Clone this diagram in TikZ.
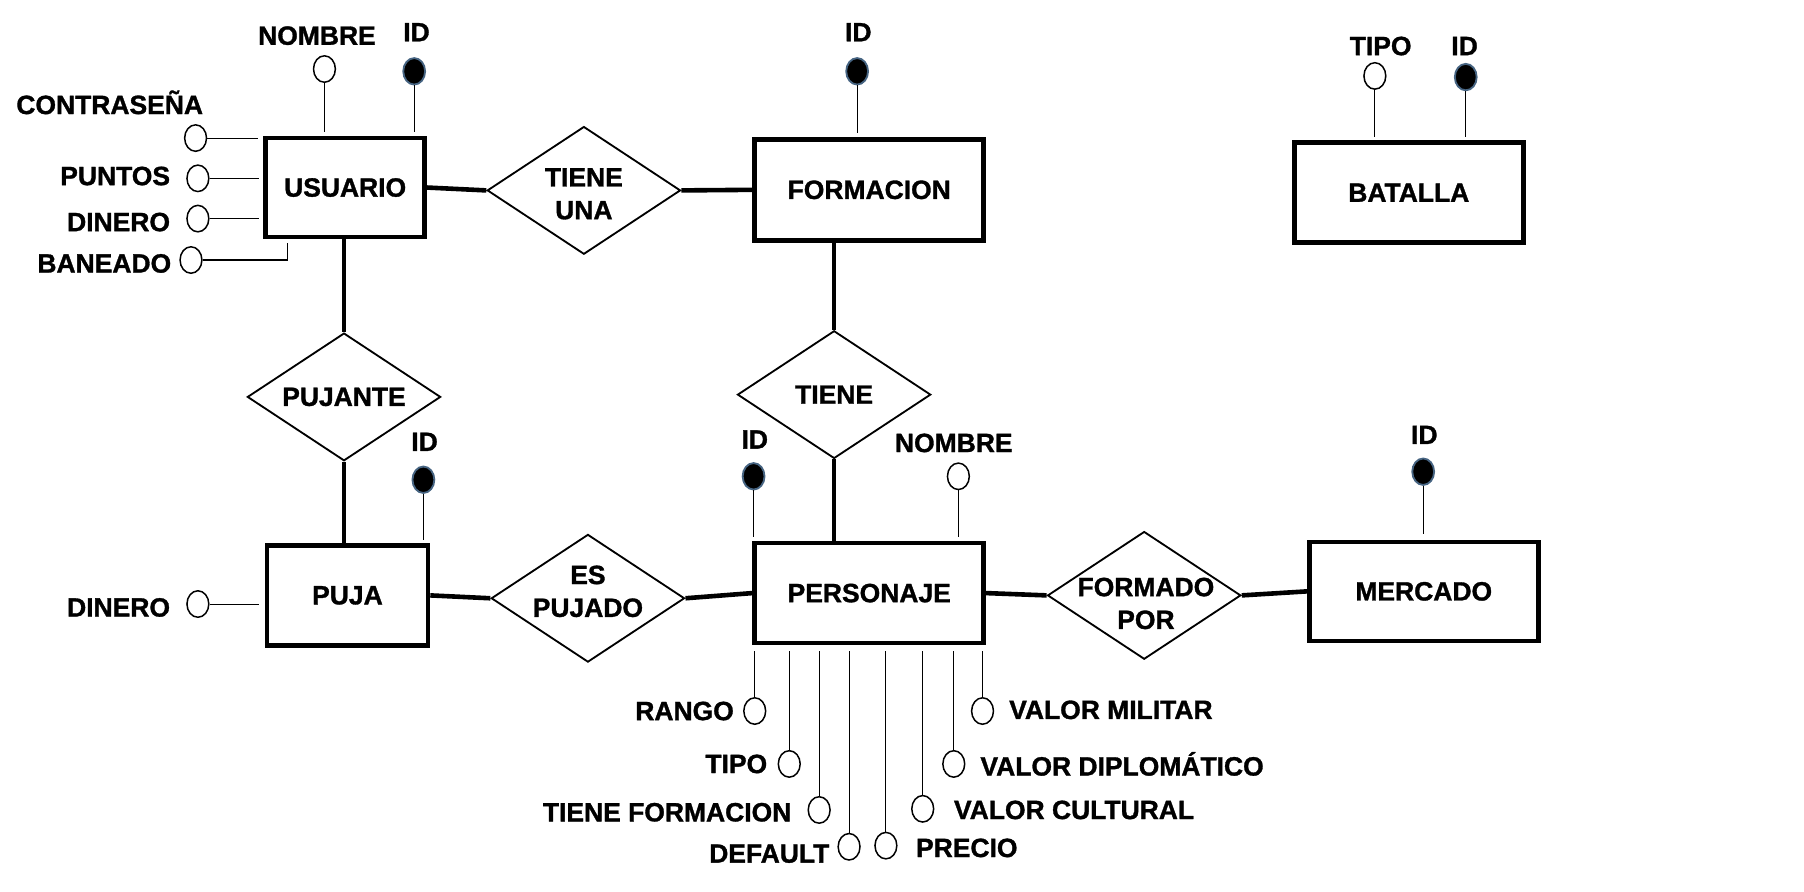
\documentclass[tikz,border=0pt]{standalone}
\usepackage{fontspec}
\setmainfont[BoldFeatures={FakeBold=1.2}]{Liberation Sans}
\usetikzlibrary{shapes.geometric}
\definecolor{keyrim}{RGB}{70,100,130}
\begin{document}
\begin{tikzpicture}[x=1pt,y=-1pt,
  every node/.style={font=\fontsize{23}{28.5}\selectfont\bfseries},
  entity/.style={draw,line width=4pt,inner sep=0},
  rel/.style={draw,diamond,line width=1.6pt,minimum width=168pt,minimum height=111pt,inner sep=0},
  attr/.style={draw,ellipse,line width=1.3pt,minimum width=19pt,minimum height=23pt,inner sep=0},
  keyattr/.style={attr,fill=black,draw=keyrim,line width=1.6pt},
  conn/.style={line width=4pt},
  alink/.style={line width=0.9pt},
  lbl/.style={inner sep=0,align=center}]
\useasboundingbox[fill=white] (0,0) rectangle (1568,775);

% entities
\node[entity,minimum width=138pt,minimum height=86pt] (usu) at (300,163) {USUARIO};
\node[entity,minimum width=199pt,minimum height=88pt] (form) at (755.5,165) {FORMACION};
\node[entity,minimum width=199pt,minimum height=87pt] (bat) at (1224.5,167.5) {BATALLA};
\node[entity,minimum width=140pt,minimum height=87pt] (puja) at (302,517.5) {PUJA};
\node[entity,minimum width=199pt,minimum height=87pt] (pers) at (755.5,515.5) {PERSONAJE};
\node[entity,minimum width=199pt,minimum height=86pt] (merc) at (1237.5,514) {MERCADO};

% relationships
\node[rel] (tu) at (507.5,165.5) {};
\node[lbl] (tuT) at (507.5,168.5) {TIENE\\UNA};
\node[rel] (pjt) at (299,345) {};
\node[lbl] (pjtT) at (299,345) {PUJANTE};
\node[rel] (tn) at (725,343) {};
\node[lbl] (tnT) at (725,343) {TIENE};
\node[rel] (ep) at (511,520) {};
\node[lbl] (epT) at (511,514) {ES\\PUJADO};
\node[rel] (fp) at (994.5,517.5) {};
\node[lbl] (fpT) at (996,524.5) {FORMADO\\POR};

% connectors
\draw[conn] (usu.east) -- (tu.west);
\draw[conn] (tu.east) -- (form.west);
\draw[conn] (pjt.north |- usu.south) -- (pjt.north);
\draw[conn] (pjt.south) -- (pjt.south |- puja.north);
\draw[conn] (tn.north |- form.south) -- (tn.north);
\draw[conn] (tn.south) -- (tn.south |- pers.north);
\draw[conn] (puja.east) -- (ep.west);
\draw[conn] (ep.east) -- (pers.west);
\draw[conn] (pers.east) -- (fp.west);
\draw[conn] (fp.east) -- (merc.west);

% USUARIO attributes
\node[attr] (uNom) at (282,60) {};
\node[lbl] (luNom) at (275.5,31) {NOMBRE};
\node[keyattr] (uId) at (360,62) {};
\node[lbl] (luId) at (362,28) {ID};
\node[attr] (uCon) at (170,120) {};
\node[lbl,anchor=west] (luCon) at (14,89) {CONTRASEÑA};
\node[attr] (uPun) at (172,155) {};
\node[lbl,anchor=east] (luPun) at (148,153) {PUNTOS};
\node[attr] (uDin) at (172,190) {};
\node[lbl,anchor=east] (luDin) at (148,193) {DINERO};
\node[attr] (uBan) at (166,226) {};
\node[lbl,anchor=east] (luBan) at (149,229) {BANEADO};
\coordinate (uBanC) at (250,226);
\draw[alink,shorten >=3pt] (uNom.south) -- (uNom.south |- usu.north);
\draw[alink,shorten >=3pt] (uId.south) -- (uId.south |- usu.north);
\draw[alink,shorten >=5pt] (uCon.east) -- (uCon.east -| usu.west);
\draw[alink,shorten >=4pt] (uPun.east) -- (uPun.east -| usu.west);
\draw[alink,shorten >=4pt] (uDin.east) -- (uDin.east -| usu.west);
\draw[alink] (uBan.east) -- (uBanC) -- ([yshift=-3pt]uBanC |- usu.south);

% FORMACION attribute
\node[keyattr] (fId) at (745,62) {};
\node[lbl] (lfId) at (746,28) {ID};
\draw[alink,shorten >=3pt] (fId.south) -- (fId.south |- form.north);

% BATALLA attributes
\node[attr] (bTip) at (1195,66) {};
\node[lbl] (lbTip) at (1200,40) {TIPO};
\node[keyattr] (bId) at (1274,67) {};
\node[lbl] (lbId) at (1273,40) {ID};
\draw[alink,shorten >=3pt] (bTip.south) -- (bTip.south |- bat.north);
\draw[alink,shorten >=3pt] (bId.south) -- (bId.south |- bat.north);

% PUJA attributes
\node[keyattr] (pjId) at (368,417) {};
\node[lbl] (lpjId) at (369,384) {ID};
\node[attr] (pjDin) at (172,525) {};
\node[lbl,anchor=east] (lpjDin) at (148,528) {DINERO};
\draw[alink,shorten >=3pt] (pjId.south) -- (pjId.south |- puja.north);
\draw[alink,shorten >=5pt] (pjDin.east) -- (pjDin.east -| puja.west);

% MERCADO attribute
\node[keyattr] (mId) at (1237,410) {};
\node[lbl] (lmId) at (1238,378) {ID};
\draw[alink,shorten >=5pt] (mId.south) -- (mId.south |- merc.north);

% PERSONAJE attributes
\node[keyattr] (peId) at (655,414) {};
\node[lbl] (lpeId) at (656,382) {ID};
\node[attr] (peNom) at (833,414) {};
\node[lbl] (lpeNom) at (829,385) {NOMBRE};
\draw[alink,shorten >=3pt] (peId.south) -- (peId.south |- pers.north);
\draw[alink,shorten >=3pt] (peNom.south) -- (peNom.south |- pers.north);

\node[attr] (peRan) at (656,618) {};
\node[lbl,anchor=east] (lpeRan) at (638,618) {RANGO};
\node[attr] (peTip) at (686,664) {};
\node[lbl,anchor=east] (lpeTip) at (667,664) {TIPO};
\node[attr] (peTF) at (712,704) {};
\node[lbl,anchor=east] (lpeTF) at (688,706) {TIENE FORMACION};
\node[attr] (peDef) at (738,736) {};
\node[lbl,anchor=east] (lpeDef) at (721,742) {DEFAULT};
\node[attr] (pePre) at (770,735) {};
\node[lbl,anchor=west] (lpePre) at (796,737) {PRECIO};
\node[attr] (peVC) at (802,703) {};
\node[lbl,anchor=west] (lpeVC) at (829,704) {VALOR CULTURAL};
\node[attr] (peVD) at (829,664) {};
\node[lbl,anchor=west] (lpeVD) at (852,664) {VALOR DIPLOMÁTICO};
\node[attr] (peVM) at (854,618) {};
\node[lbl,anchor=west] (lpeVM) at (877,617) {VALOR MILITAR};
\foreach \a in {peRan,peTip,peTF,peDef,pePre,peVC,peVD,peVM}
  \draw[alink,shorten >=5pt] (\a.north) -- (\a.north |- pers.south);
\end{tikzpicture}
\end{document}
